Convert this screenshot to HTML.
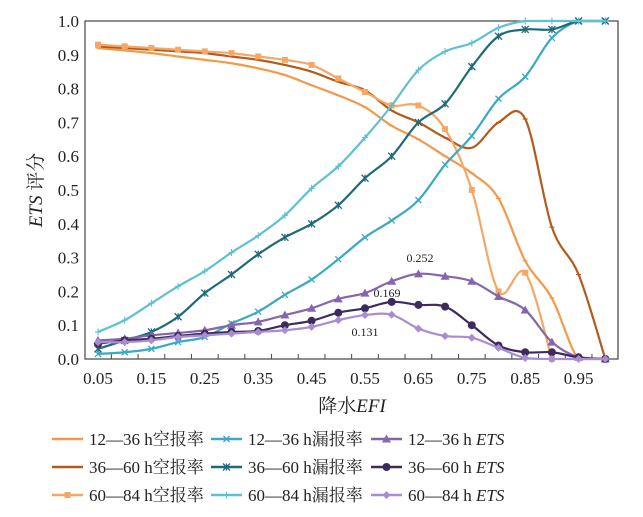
<!DOCTYPE html>
<html><head><meta charset="utf-8"><style>
body{margin:0;background:#fff;}
svg text{font-family:"Liberation Serif","Noto Serif CJK SC",serif;fill:#222;}
</style></head><body>
<svg id="chart" width="643" height="512" viewBox="0 0 643 512" xmlns="http://www.w3.org/2000/svg">
<rect x="85" y="21" width="533" height="338" fill="none" stroke="#444" stroke-width="1.2"/>
<g id="axes"></g>
<g id="series"></g>
<text x="420" y="262" font-size="12" text-anchor="middle">0.252</text>
<text x="387" y="297" font-size="12" text-anchor="middle">0.169</text>
<text x="365" y="336" font-size="12" text-anchor="middle">0.131</text>
<text x="352" y="412" font-size="19" text-anchor="middle">降水<tspan font-style="italic">EFI</tspan></text>
<text transform="translate(42,190) rotate(-90)" font-size="19" text-anchor="middle"><tspan font-style="italic">ETS</tspan> 评分</text>
<g id="legend"></g>
</svg>
<script>
const xValues=[0.05,0.1,0.15,0.2,0.25,0.3,0.35,0.4,0.45,0.5,0.55,0.6,0.65,0.7,0.75,0.8,0.85,0.9,0.95,1.0];
const xTickLabels=["0.05","0.15","0.25","0.35","0.45","0.55","0.65","0.75","0.85","0.95"];
const yTickLabels=["0.0","0.1","0.2","0.3","0.4","0.5","0.6","0.7","0.8","0.9","1.0"];
const far12=[0.92,0.913,0.905,0.895,0.885,0.875,0.86,0.84,0.81,0.78,0.745,0.69,0.65,0.60,0.55,0.475,0.29,0.18,0,0];
const far36=[0.925,0.92,0.915,0.91,0.905,0.895,0.885,0.87,0.85,0.82,0.795,0.735,0.70,0.655,0.625,0.70,0.71,0.39,0.25,0];
const far60=[0.93,0.925,0.92,0.915,0.91,0.905,0.895,0.885,0.87,0.83,0.79,0.75,0.75,0.68,0.50,0.20,0.255,0];
const por12=[0.015,0.02,0.03,0.05,0.065,0.105,0.14,0.19,0.235,0.295,0.36,0.41,0.47,0.575,0.66,0.77,0.835,0.95,1.0,1.0];
const por36=[0.03,0.055,0.08,0.125,0.195,0.25,0.31,0.36,0.40,0.455,0.535,0.60,0.70,0.755,0.865,0.955,0.975,0.975,1.0,1.0];
const por60=[0.08,0.115,0.165,0.215,0.26,0.315,0.365,0.425,0.505,0.57,0.655,0.75,0.855,0.91,0.935,0.98,1.0,1.0,1.0,1.0];
const ets12=[0.055,0.06,0.07,0.077,0.085,0.10,0.11,0.13,0.15,0.178,0.195,0.23,0.252,0.245,0.23,0.185,0.145,0.05,0.005,0];
const ets36=[0.045,0.055,0.06,0.068,0.075,0.08,0.083,0.10,0.113,0.137,0.15,0.169,0.16,0.155,0.10,0.04,0.02,0.02,0.005,0];
const ets60=[0.05,0.05,0.055,0.065,0.07,0.075,0.08,0.085,0.095,0.115,0.13,0.131,0.09,0.068,0.063,0.033,0.003,0,0,0];

const NS="http://www.w3.org/2000/svg";
const X=v=>98+(v-0.05)/0.05*26.7;
const Y=v=>359-v*338;
function mk(tag,attrs,parent){const e=document.createElementNS(NS,tag);for(const k in attrs)e.setAttribute(k,attrs[k]);parent.appendChild(e);return e;}
const axes=document.getElementById('axes');
for(let i=0;i<19;i++){const tx=X(0.05)+26.7*(i+0.5);
 const t=mk('line',{x1:tx,x2:tx,y1:359,y2:354,stroke:'#444'},axes);
 
 }
xTickLabels.forEach(l=>{const t=mk('text',{x:X(parseFloat(l)),y:384,'font-size':17,'text-anchor':'middle'},axes);t.textContent=l;
 
 });
yTickLabels.forEach(l=>{const t=mk('text',{x:79,y:Y(parseFloat(l))+6,'font-size':17,'text-anchor':'end'},axes);t.textContent=l;
 
 });

const cl=y=>Math.max(Y(1),Math.min(Y(0),y));
function smooth(pts){let d=`M${pts[0][0]},${pts[0][1]}`;
 for(let i=0;i<pts.length-1;i++){const p0=pts[i-1]||pts[i],p1=pts[i],p2=pts[i+1],p3=pts[i+2]||p2;
  const c1=[p1[0]+(p2[0]-p0[0])/6,cl(p1[1]+(p2[1]-p0[1])/6)],c2=[p2[0]-(p3[0]-p1[0])/6,cl(p2[1]-(p3[1]-p1[1])/6)];
  d+=` C${c1[0]},${c1[1]} ${c2[0]},${c2[1]} ${p2[0]},${p2[1]}`;}return d;}
function marker(g,type,x,y,c){
 if(type==='sq')return mk('rect',{x:x-3,y:y-3,width:6,height:6,fill:c},g);
 if(type==='x')return mk('path',{d:`M${x-3},${y-3}L${x+3},${y+3}M${x-3},${y+3}L${x+3},${y-3}`,stroke:c,'stroke-width':1.3},g);
 if(type==='star')return mk('path',{d:`M${x-3.5},${y-3.5}L${x+3.5},${y+3.5}M${x-3.5},${y+3.5}L${x+3.5},${y-3.5}M${x},${y-3.5}L${x},${y+3.5}`,stroke:c,'stroke-width':1.3},g);
 if(type==='plus')return mk('path',{d:`M${x-3},${y}L${x+3},${y}M${x},${y-3.5}L${x},${y+3.5}`,stroke:c,'stroke-width':1.1},g);
 if(type==='dash')return mk('path',{d:`M${x-2.5},${y}L${x+2.5},${y}`,stroke:c,'stroke-width':1.1},g);
 if(type==='tri')return mk('polygon',{points:`${x},${y-4.5} ${x-4.5},${y+3.5} ${x+4.5},${y+3.5}`,fill:c},g);
 if(type==='circ')return mk('circle',{cx:x,cy:y,r:4,fill:c},g);
 if(type==='dia')return mk('polygon',{points:`${x},${y-4} ${x+4},${y} ${x},${y+4} ${x-4},${y}`,fill:c},g);}
const seriesDefs=[
 {name:'far-12-36',data:far12,color:'#f2994a',m:'dash',label:'12—36 h空报率'},
 {name:'far-36-60',data:far36,color:'#b35a1f',m:'dash',label:'36—60 h空报率'},
 {name:'far-60-84',data:far60,color:'#f5a866',m:'sq',label:'60—84 h空报率'},
 {name:'por-12-36',data:por12,color:'#3aa9c1',m:'x',label:'12—36 h漏报率'},
 {name:'por-36-60',data:por36,color:'#1f6a7a',m:'star',label:'36—60 h漏报率'},
 {name:'por-60-84',data:por60,color:'#5fc0d3',m:'plus',label:'60—84 h漏报率'},
 {name:'ets-12-36',data:ets12,color:'#8566ad',m:'tri',label:'12—36 h ',ets:true},
 {name:'ets-36-60',data:ets36,color:'#3e2b5e',m:'circ',label:'36—60 h ',ets:true},
 {name:'ets-60-84',data:ets60,color:'#a88ed0',m:'dia',label:'60—84 h ',ets:true}];
const sg=document.getElementById('series');
seriesDefs.forEach(s=>{
 const g=mk('g',{},sg);
 
 
 const pts=s.data.map((v,i)=>[X(xValues[i]),Y(v)]);
 const p=mk('path',{d:smooth(pts),fill:'none',stroke:s.color,'stroke-width':2.2},g);
 
 
 pts.forEach(pt=>{const m=marker(g,s.m,pt[0],pt[1],s.color);
  
  });
});
const lg=document.getElementById('legend');
const order=[0,3,6,1,4,7,2,5,8];const colX=[52,211,371];const rowY=[439,467,495];
order.forEach((si,k)=>{const s=seriesDefs[si];const c=k%3,r=Math.floor(k/3);
 const g=mk('g',{},lg);
 
 
 mk('line',{x1:colX[c],x2:colX[c]+31,y1:rowY[r],y2:rowY[r],stroke:s.color,'stroke-width':2.5},g);
 if(s.m!=='dash')marker(g,s.m,colX[c]+15.5,rowY[r],s.color);
 const t=mk('text',{x:colX[c]+37,y:rowY[r]+6,'font-size':17},g);
 t.textContent=s.label;
 if(s.ets){const ts=mk('tspan',{'font-style':'italic'},t);ts.textContent='ETS';}
});
</script>
</body></html>
